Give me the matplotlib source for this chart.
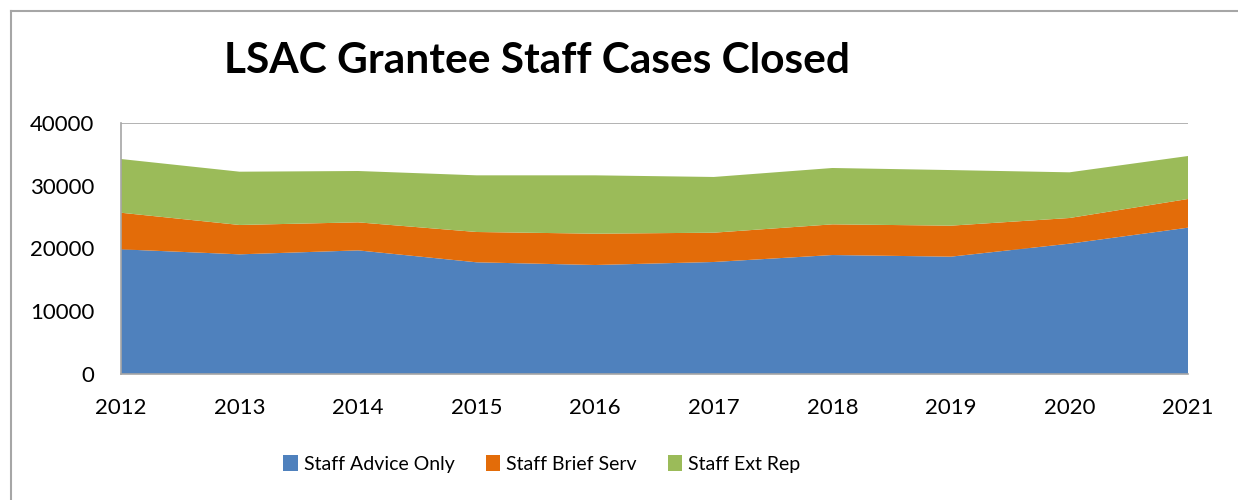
import matplotlib
matplotlib.use("Agg")
import matplotlib.pyplot as plt
from matplotlib.lines import Line2D

# Data
years = [2012, 2013, 2014, 2015, 2016, 2017, 2018, 2019, 2020, 2021]
advice_only = [19870, 19070, 19700, 17800, 17370, 17850, 18960, 18700, 20770, 23320]
brief_serv = [5830, 4680, 4470, 4830, 4990, 4670, 4890, 4940, 4090, 4570]
ext_rep = [8560, 8490, 8180, 9030, 9300, 8880, 8980, 8860, 7280, 6850]
labels = ["Staff Advice Only", "Staff Brief Serv", "Staff Ext Rep"]
colors = ["#4F81BD", "#E36C09", "#9BBB59"]

plt.rcParams['font.family'] = ['Lato', 'DejaVu Sans']

fig = plt.figure(figsize=(12.38, 5.0), dpi=100)
ax = fig.add_axes([121 / 1238, 1 - 374 / 500, (1188 - 121) / 1238, (374 - 123) / 500])

ax.stackplot(years, advice_only, brief_serv, ext_rep, colors=colors, labels=labels, zorder=2)

ax.set_xlim(years[0], years[-1])
ax.set_ylim(0, 40000)
ax.set_yticks([0, 10000, 20000, 30000, 40000])
ax.set_xticks(years)
ax.yaxis.grid(True, color="#A6A6A6", linewidth=1.2, zorder=0)
ax.set_axisbelow(True)
ax.tick_params(axis="both", length=0, labelsize=16)
ax.tick_params(axis="x", pad=17)
ax.tick_params(axis="y", pad=19)

for side in ["right", "top"]:
    ax.spines[side].set_visible(False)
for side in ["left", "bottom"]:
    ax.spines[side].set_color("#A6A6A6")
    ax.spines[side].set_linewidth(1.2)

fig.text(537 / 1238, 1 - 73 / 500, "LSAC Grantee Staff Cases Closed",
         fontsize=30.5, fontweight="bold", ha="center", va="baseline")

fig.legend(loc="center", bbox_to_anchor=(542 / 1238, 1 - 464 / 500), ncol=3,
           frameon=False, fontsize=14, handlelength=0.75, handleheight=0.9,
           handletextpad=0.3, columnspacing=1.6)

# outer chart border (top and left visible)
fig.add_artist(Line2D([11 / 1238, 1], [1 - 11 / 500, 1 - 11 / 500], color="#A6A6A6", linewidth=1.5))
fig.add_artist(Line2D([11 / 1238, 11 / 1238], [0, 1 - 11 / 500], color="#A6A6A6", linewidth=1.5))

fig.savefig("out.png", dpi=100)
